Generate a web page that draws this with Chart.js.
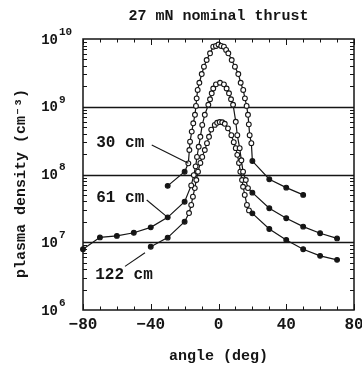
<!DOCTYPE html>
<html>
<head>
<meta charset="utf-8">
<script src="https://cdn.jsdelivr.net/npm/chart.js@4.4.1/dist/chart.umd.min.js"></script>
<style>
  html, body { margin: 0; padding: 0; background: #fff; }
</style>
</head>
<body>
<canvas id="plot" width="362" height="367"></canvas>
<script>
// angle (deg) and plasma density (cm^-3)
const angles30 = [-30, -20, -17.8, -17.2, -16.8, -15.8, -14.9, -13.9, -13.3, -12.9, -12.3, -11.3, -9.9, -8.6, -7, -5, -3.1, -1.5, 0, 1.6, 3.2, 4.5, 5.8, 7.8, 9.7, 11.7, 13.1, 14.6, 15.6, 16.6, 17.4, 17.9, 18.4, 19.4, 20, 30, 40, 50];
const density30 = [6.8e7, 1.1e8, 1.46e8, 2.3e8, 3.05e8, 4.3e8, 5.7e8, 7.6e8, 1.03e9, 1.33e9, 1.77e9, 2.26e9, 3.04e9, 3.9e9, 4.9e9, 6.15e9, 7.7e9, 7.9e9, 8.3e9, 7.9e9, 7.7e9, 6.9e9, 6.15e9, 4.9e9, 3.9e9, 3.04e9, 2.26e9, 1.77e9, 1.33e9, 1.03e9, 7.6e8, 5.5e8, 3.8e8, 2.9e8, 1.58e8, 8.5e7, 6.4e7, 5.0e7];

const angles61 = [-80, -70, -60, -50, -40, -30, -20, -16.1, -14.6, -13.5, -12.7, -11.7, -10.7, -9.6, -8.1, -6, -5, -4, -3.1, -1.5, 0.9, 3.2, 4.8, 6.2, 7.4, 8.6, 10.2, 11.1, 12.5, 13.5, 14.5, 16.1, 17.4, 20, 30, 40, 50, 60, 70];
const density61 = [7.9e6, 1.18e7, 1.24e7, 1.38e7, 1.66e7, 2.33e7, 3.97e7, 6.9e7, 9.8e7, 1.32e8, 1.82e8, 2.57e8, 3.6e8, 5.4e8, 7.6e8, 1.07e9, 1.29e9, 1.58e9, 1.86e9, 2.14e9, 2.26e9, 2.14e9, 1.86e9, 1.58e9, 1.29e9, 1.07e9, 6.0e8, 3.8e8, 2.45e8, 1.62e8, 1.1e8, 8.3e7, 6.3e7, 5.4e7, 3.17e7, 2.26e7, 1.7e7, 1.36e7, 1.14e7];

const angles122 = [-40, -30, -20, -17.4, -16.1, -15.1, -14, -13.1, -12.1, -10.7, -9.6, -8.1, -6.8, -5.6, -4.3, -2.2, -0.8, 0.7, 2.2, 3.7, 5.6, 7.6, 9, 10.2, 11.1, 12.1, 12.9, 13.9, 14.5, 15.5, 16.8, 18, 20, 30, 40, 50, 60, 70];
const density122 = [8.6e6, 1.17e7, 2.01e7, 2.7e7, 3.55e7, 4.7e7, 6.3e7, 8.3e7, 1.1e8, 1.48e8, 1.82e8, 2.3e8, 2.9e8, 3.6e8, 4.6e8, 5.4e8, 5.8e8, 5.95e8, 5.9e8, 5.6e8, 4.8e8, 3.8e8, 3.0e8, 2.45e8, 1.95e8, 1.48e8, 1.1e8, 8.3e7, 6.6e7, 5.0e7, 3.55e7, 2.95e7, 2.67e7, 1.57e7, 1.08e7, 7.9e6, 6.3e6, 5.5e6];

const xTickLabels = [-80, -40, 0, 40, 80];
const yDecades = [1e6, 1e7, 1e8, 1e9, 1e10];

// curve labels with leader lines, in data units
const callouts = [
  { text: "30 cm", at: [-58, 2.9e8], from: [-39.4, 2.72e8], to: [-17.8, 1.46e8] },
  { text: "61 cm", at: [-58, 4.5e7], from: [-42.4, 4.2e7], to: [-30, 2.33e7] },
  { text: "122 cm", at: [-55.8, 3.3e6], from: [-55.2, 4.4e6], to: [-43.4, 7.0e6] },
];

const ink = "#151515";
const mono = "'Liberation Mono', 'DejaVu Sans Mono', monospace";

function series(label, xs, ys) {
  return {
    label,
    data: xs.map((x, i) => ({ x, y: ys[i] })),
    borderColor: ink,
    borderWidth: 1.2,
    pointRadius: 2.4,
    pointBorderWidth: 1.1,
    pointBorderColor: ink,
    pointBackgroundColor: (c) => (c.raw && Math.abs(c.raw.x) >= 19.5 ? ink : "#fff"),
    tension: 0,
    clip: 5,
  };
}

const frame = {
  id: "frame",
  beforeDatasetsDraw(chart) {
    const { ctx, chartArea: a, scales } = chart;
    ctx.save();
    ctx.strokeStyle = ink;
    ctx.lineWidth = 1.3;
    for (const v of yDecades.slice(1, -1)) {
      const y = Math.round(scales.y.getPixelForValue(v)) + 0.5;
      ctx.beginPath();
      ctx.moveTo(a.left, y);
      ctx.lineTo(a.right, y);
      ctx.stroke();
    }
    ctx.restore();
  },
  afterDraw(chart) {
    const { ctx, chartArea: a, scales } = chart;
    ctx.save();
    ctx.strokeStyle = ink;
    ctx.fillStyle = ink;
    ctx.lineWidth = 1.5;
    ctx.strokeRect(a.left, a.top, a.right - a.left, a.bottom - a.top);

    ctx.lineWidth = 1;
    ctx.beginPath();
    for (let v = -80; v <= 80; v += 10) {
      const x = Math.round(scales.x.getPixelForValue(v)) + 0.5;
      const len = v % 40 === 0 ? 6 : 3.5;
      ctx.moveTo(x, a.bottom); ctx.lineTo(x, a.bottom - len);
      ctx.moveTo(x, a.top); ctx.lineTo(x, a.top + len);
    }
    for (const d of yDecades.slice(0, -1)) {
      for (let m = 2; m <= 9; m++) {
        const y = Math.round(scales.y.getPixelForValue(m * d)) + 0.5;
        ctx.moveTo(a.left, y); ctx.lineTo(a.left + 4, y);
        ctx.moveTo(a.right, y); ctx.lineTo(a.right - 4, y);
      }
    }
    ctx.stroke();

    // decade labels 10^n
    for (const v of yDecades) {
      const y = scales.y.getPixelForValue(v);
      ctx.font = "bold 14px " + mono;
      ctx.textAlign = "right";
      ctx.textBaseline = "middle";
      ctx.fillText("10", 58, y + 1);
      ctx.font = "bold 11px " + mono;
      ctx.textAlign = "left";
      ctx.fillText(String(Math.round(Math.log10(v))), 59, y - 7);
    }

    // callouts
    ctx.font = "bold 16px " + mono;
    ctx.textAlign = "center";
    ctx.textBaseline = "middle";
    ctx.lineWidth = 1.1;
    for (const c of callouts) {
      ctx.fillText(c.text, scales.x.getPixelForValue(c.at[0]), scales.y.getPixelForValue(c.at[1]));
      ctx.beginPath();
      ctx.moveTo(scales.x.getPixelForValue(c.from[0]), scales.y.getPixelForValue(c.from[1]));
      ctx.lineTo(scales.x.getPixelForValue(c.to[0]), scales.y.getPixelForValue(c.to[1]));
      ctx.stroke();
    }
    ctx.restore();
  },
};

new Chart(document.getElementById("plot"), {
  type: "line",
  data: {
    datasets: [
      series("30 cm", angles30, density30),
      series("61 cm", angles61, density61),
      series("122 cm", angles122, density122),
    ],
  },
  options: {
    responsive: false,
    animation: false,
    devicePixelRatio: 1,
    layout: { padding: { left: 0, top: 0, bottom: 0, right: 8 } },
    plugins: {
      legend: { display: false },
      tooltip: { enabled: false },
      title: {
        display: true,
        fullSize: false,
        text: "27 mN nominal thrust",
        color: ink,
        font: { family: mono, size: 15, weight: "bold" },
        padding: { top: 7, bottom: 14 },
      },
    },
    scales: {
      x: {
        type: "linear",
        min: -80,
        max: 80,
        afterBuildTicks: (s) => { s.ticks = xTickLabels.map((v) => ({ value: v })); },
        afterFit: (s) => { s.height = 57; s.paddingLeft = 0; s.paddingRight = 0; },
        grid: { display: false, drawTicks: false },
        border: { display: false },
        ticks: {
          color: ink,
          padding: 5,
          maxRotation: 0,
          font: { family: mono, size: 16, weight: "bold" },
          callback: (v) => String(v).replace("-", "\u2212"),
        },
        title: {
          display: true,
          text: "angle (deg)",
          color: ink,
          font: { family: mono, size: 15, weight: "bold" },
          padding: { top: 0, bottom: 2 },
        },
      },
      y: {
        type: "logarithmic",
        min: 1e6,
        max: 1e10,
        afterFit: (s) => { s.width = 83; },
        grid: { display: false, drawTicks: false },
        border: { display: false },
        ticks: { display: false },
        title: {
          display: true,
          text: "plasma density (cm\u207B\u00B3)  ",
          color: ink,
          font: { family: mono, size: 15, weight: "bold" },
          padding: { top: 12, bottom: 0 },
        },
      },
    },
  },
  plugins: [frame],
});
</script>
</body>
</html>
